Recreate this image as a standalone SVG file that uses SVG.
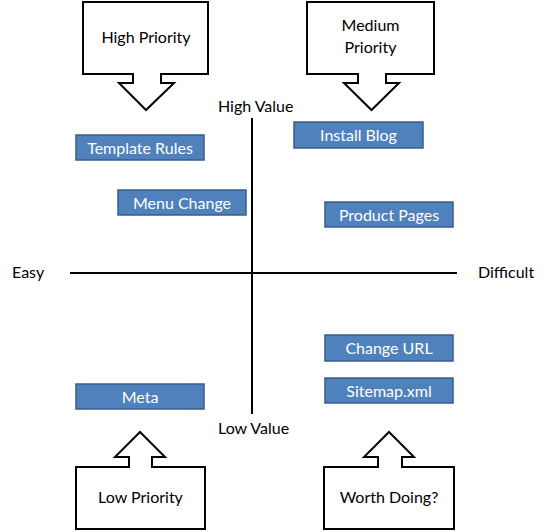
<svg xmlns="http://www.w3.org/2000/svg" width="550" height="532" viewBox="0 0 550 532">
<style>
.t{font-family:Lato,"Open Sans","Liberation Sans",sans-serif;font-size:16px;fill:#000}
.bt{font-family:Lato,"Open Sans","Liberation Sans",sans-serif;font-size:16px;fill:#fff;text-anchor:middle}
.box{fill:#4F81BD;stroke:#385D8A;stroke-width:1.5}
.call{fill:#fff;stroke:#000;stroke-width:2;stroke-linejoin:miter}
.axis{stroke:#000;stroke-width:2}
</style>
<rect width="550" height="532" fill="#fff"/>
<g id="axes">
<line class="axis" x1="70" y1="273" x2="457" y2="273"/>
<line class="axis" x1="252" y1="118" x2="252" y2="414"/>
<text class="t" x="12" y="278">Easy</text>
<text class="t" x="478" y="278">Difficult</text>
<text class="t" x="218" y="112">High Value</text>
<text class="t" x="218" y="434">Low Value</text>
</g>
<g id="high-priority">
<path class="call" d="M83,2 H208 V74 H161 V83 H174 L146,110 L119,83 H133 V74 H83 Z"/>
<text class="t" x="146" y="43" text-anchor="middle">High Priority</text>
</g>
<g id="medium-priority">
<path class="call" d="M307,2 H434 V74 H386 V83 H399 L371.5,110 L344,83 H358 V74 H307 Z"/>
<text class="t" x="370.5" y="31" text-anchor="middle">Medium</text>
<text class="t" x="370.5" y="53" text-anchor="middle">Priority</text>
</g>
<g id="low-priority">
<path class="call" d="M76,467 H129 V457 H115 L140,432 L165,457 H152 V467 H205 V529 H76 Z"/>
<text class="t" x="140.5" y="503" text-anchor="middle">Low Priority</text>
</g>
<g id="worth-doing">
<path class="call" d="M324,467 H378 V457 H364 L389,432 L414,457 H402 V467 H454 V529 H324 Z"/>
<text class="t" x="389" y="503" text-anchor="middle">Worth Doing?</text>
</g>
<g id="template-rules">
<rect class="box" x="76" y="135" width="128" height="25"/>
<text class="bt" x="140" y="153.5">Template Rules</text>
</g>
<g id="menu-change">
<rect class="box" x="118" y="190" width="128" height="25"/>
<text class="bt" x="182" y="208.5">Menu Change</text>
</g>
<g id="install-blog">
<rect class="box" x="294" y="122" width="129" height="26"/>
<text class="bt" x="358.5" y="141">Install Blog</text>
</g>
<g id="product-pages">
<rect class="box" x="325" y="202" width="128" height="25"/>
<text class="bt" x="389" y="220.5">Product Pages</text>
</g>
<g id="change-url">
<rect class="box" x="325" y="335" width="128" height="26"/>
<text class="bt" x="389" y="353.5">Change URL</text>
</g>
<g id="sitemap">
<rect class="box" x="325" y="378" width="128" height="25"/>
<text class="bt" x="389" y="396.5">Sitemap.xml</text>
</g>
<g id="meta">
<rect class="box" x="76" y="384" width="128" height="25"/>
<text class="bt" x="140" y="402.5">Meta</text>
</g>
</svg>
